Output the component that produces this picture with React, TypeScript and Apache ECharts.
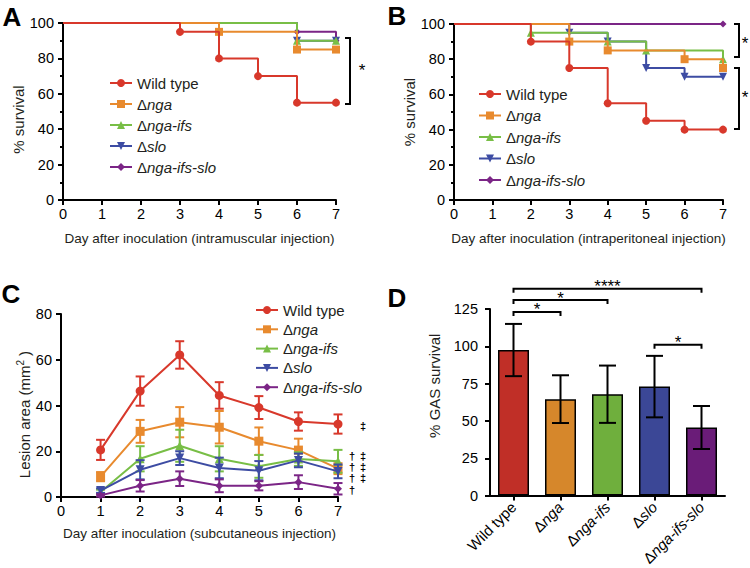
import React, { useEffect, useRef } from 'react';
import * as echarts from 'echarts';

const FONT = '"Liberation Sans", Arial, Helvetica, sans-serif';

const groups = ['Wild type', 'Δnga', 'Δnga-ifs', 'Δslo', 'Δnga-ifs-slo'];
const lineColors = ['#d8382b', '#e88a2e', '#78be46', '#3d4ca3', '#7b2586'];
const barColors = ['#c02f27', '#d6872b', '#6faf3d', '#3b4796', '#6a1c78'];
const symbols = ['circle', 'rect', 'triangle', 'triangle', 'diamond'];
const symbolRotates = [0, 0, 0, 180, 0];
const symbolSizes = [8, 8, 8, 8, 7];

// Panel A: % survival, intramuscular injection ([day, %])
const imWildType = [[0, 100], [3, 95], [4, 80], [5, 70], [6, 55], [7, 55]];
const imNga = [[0, 100], [4, 95], [6, 85], [7, 85]];
const imNgaIfs = [[0, 100], [6, 90], [7, 90]];
const imSlo = [[0, 100], [6, 90], [7, 90]];
const imNgaIfsSlo = [[0, 100], [6, 95], [7, 90]];

// Panel B: % survival, intraperitoneal injection ([day, %])
const ipWildType = [[0, 100], [2, 90], [3, 75], [4, 55], [5, 45], [6, 40], [7, 40]];
const ipNga = [[0, 100], [3, 90], [4, 85], [6, 80], [7, 75]];
const ipNgaIfs = [[0, 100], [2, 95], [4, 90], [5, 85], [7, 80]];
const ipSlo = [[0, 100], [3, 95], [4, 90], [5, 75], [6, 70], [7, 70]];
const ipNgaIfsSlo = [[0, 100], [7, 100]];

// Panel C: lesion area (mm2), subcutaneous injection
const lesionDays = [1, 2, 3, 4, 5, 6, 7];
const lesionWildType = [20.6, 46.3, 62.1, 44.4, 39.1, 33.0, 31.9];
const lesionWildTypeErr = [4.4, 6.4, 6.0, 5.8, 5.0, 4.0, 4.2];
const lesionNga = [8.9, 28.7, 32.7, 30.5, 24.4, 20.5, 12.4];
const lesionNgaErr = [2.0, 5.0, 6.6, 7.1, 6.0, 5.0, 2.4];
const lesionNgaIfs = [2.2, 16.7, 22.4, 16.7, 13.4, 16.6, 15.6];
const lesionNgaIfsErr = [1.0, 5.5, 7.0, 5.5, 5.0, 3.0, 5.0];
const lesionSlo = [2.8, 11.9, 17.0, 12.7, 11.5, 16.0, 11.2];
const lesionSloErr = [1.0, 4.2, 3.0, 4.5, 4.2, 3.0, 3.0];
const lesionNgaIfsSlo = [0.7, 4.9, 8.0, 4.9, 4.9, 6.5, 3.6];
const lesionNgaIfsSloErr = [0.5, 2.5, 3.2, 2.8, 2.0, 3.0, 2.5];

// Panel D: % GAS survival
const gasSurvival = [97.5, 64.6, 67.9, 73.0, 45.6];
const gasSurvivalErr = [17.5, 16.0, 19.2, 20.6, 14.4];
// significance brackets: [from index, to index, y level]
const brackets = [[0, 1, 123], [0, 2, 131], [0, 4, 138.5], [3, 4, 101]];
const bracketLabels = ['*', '*', '****', '*'];

const survivalIM = [imWildType, imNga, imNgaIfs, imSlo, imNgaIfsSlo];
const survivalIP = [ipWildType, ipNga, ipNgaIfs, ipSlo, ipNgaIfsSlo];
const lesionMeans = [lesionWildType, lesionNga, lesionNgaIfs, lesionSlo, lesionNgaIfsSlo];
const lesionErrs = [lesionWildTypeErr, lesionNgaErr, lesionNgaIfsErr, lesionSloErr, lesionNgaIfsSloErr];

const TXT = '#231f20';

function fmt(label: string) {
  if (label.startsWith('Δ')) return `{n|Δ}{i|${label.slice(1)}}`;
  return `{n|${label}}`;
}

function richStyles(size: number) {
  return {
    n: { fontSize: size, fontFamily: FONT, color: TXT },
    i: { fontSize: size, fontFamily: FONT, color: TXT, fontStyle: 'italic' },
  };
}

const axisBase = {
  axisLine: { show: true, lineStyle: { color: '#000', width: 2 } },
  axisTick: { show: true, length: 5, lineStyle: { color: '#000', width: 2 } },
  splitLine: { show: false },
  nameTextStyle: { color: TXT, fontFamily: FONT, fontSize: 15 },
};

function labelStyle(margin: number) {
  return { color: '#000', fontSize: 14.5, fontFamily: FONT, margin };
}

export default function App() {
  const ref = useRef<HTMLDivElement>(null);
  useEffect(() => {
    if (!ref.current) return;
    const chart = echarts.init(ref.current, undefined, { renderer: 'svg' });

    const series: any[] = [];
    const survPanels = [
      { data: survivalIM, idx: 0, p: 'A' },
      { data: survivalIP, idx: 1, p: 'B' },
    ];
    survPanels.forEach(({ data, idx, p }) => {
      data.forEach((pts, g) => {
        series.push({
          name: `${p}:${groups[g]}`,
          type: 'line',
          xAxisIndex: idx,
          yAxisIndex: idx,
          step: 'end',
          symbol: symbols[g],
          symbolRotate: symbolRotates[g],
          symbolSize: symbolSizes[g],
          showAllSymbol: true,
          lineStyle: { color: lineColors[g], width: 2 },
          itemStyle: { color: lineColors[g] },
          data: pts.map((pt, k) => (k === 0 ? { value: pt, symbol: 'none' } : { value: pt })),
          z: 10 - g,
        });
      });
    });

    lesionMeans.forEach((means, g) => {
      const color = lineColors[g];
      series.push({
        name: `err-C:${groups[g]}`,
        type: 'custom',
        xAxisIndex: 2,
        yAxisIndex: 2,
        clip: false,
        encode: { x: 0, y: 1 },
        data: lesionDays.map((d, i) => [d, means[i], lesionErrs[g][i]]),
        renderItem: (params: any, api: any) => {
          const x = api.value(0);
          const m = api.value(1);
          const e = api.value(2);
          const top = api.coord([x, m + e]);
          const bot = api.coord([x, Math.max(0, m - e)]);
          const hw = 4.5;
          const st = { stroke: color, lineWidth: 2 };
          return {
            type: 'group',
            children: [
              { type: 'line', shape: { x1: top[0], y1: top[1], x2: bot[0], y2: bot[1] }, style: st },
              { type: 'line', shape: { x1: top[0] - hw, y1: top[1], x2: top[0] + hw, y2: top[1] }, style: st },
              { type: 'line', shape: { x1: bot[0] - hw, y1: bot[1], x2: bot[0] + hw, y2: bot[1] }, style: st },
            ],
          };
        },
        z: 2 + g,
      });
      series.push({
        name: `C:${groups[g]}`,
        type: 'line',
        xAxisIndex: 2,
        yAxisIndex: 2,
        symbol: symbols[g],
        symbolRotate: symbolRotates[g],
        symbolSize: symbolSizes[g] + 1,
        lineStyle: { color, width: 2 },
        itemStyle: { color },
        data: lesionDays.map((d, i) => [d, means[i]]),
        z: 2 + g,
      });
    });

    series.push({
      name: 'D:bars',
      type: 'bar',
      xAxisIndex: 3,
      yAxisIndex: 3,
      barWidth: 31,
      data: gasSurvival.map((v, i) => ({
        value: v,
        itemStyle: { color: barColors[i], borderColor: '#000', borderWidth: 1.5 },
      })),
      z: 2,
    });
    series.push({
      name: 'D:err',
      type: 'custom',
      xAxisIndex: 3,
      yAxisIndex: 3,
      clip: false,
      encode: { x: 0, y: 1 },
      data: gasSurvival.map((v, i) => [i, v, gasSurvivalErr[i]]),
      renderItem: (params: any, api: any) => {
        const x = api.value(0);
        const m = api.value(1);
        const e = api.value(2);
        const top = api.coord([x, m + e]);
        const bot = api.coord([x, m - e]);
        const hw = 8.5;
        const st = { stroke: '#000', lineWidth: 2 };
        return {
          type: 'group',
          children: [
            { type: 'line', shape: { x1: top[0], y1: top[1], x2: bot[0], y2: bot[1] }, style: st },
            { type: 'line', shape: { x1: top[0] - hw, y1: top[1], x2: top[0] + hw, y2: top[1] }, style: st },
            { type: 'line', shape: { x1: bot[0] - hw, y1: bot[1], x2: bot[0] + hw, y2: bot[1] }, style: st },
          ],
        };
      },
      z: 5,
    });
    series.push({
      name: 'D:brackets',
      type: 'custom',
      xAxisIndex: 3,
      yAxisIndex: 3,
      clip: false,
      encode: { x: 0, y: 2 },
      data: brackets,
      renderItem: (params: any, api: any) => {
        const a = api.coord([api.value(0), api.value(2)]);
        const b = api.coord([api.value(1), api.value(2)]);
        const y = a[1];
        const st = { stroke: '#000', lineWidth: 2, fill: 'none' };
        return {
          type: 'group',
          children: [
            {
              type: 'polyline',
              shape: { points: [[a[0], y + 4], [a[0], y], [b[0], y], [b[0], y + 4]] },
              style: st,
            },
            {
              type: 'text',
              x: (a[0] + b[0]) / 2,
              y: y - 2,
              style: {
                text: bracketLabels[params.dataIndex],
                fontSize: 17,
                fontFamily: FONT,
                fill: '#000',
                align: 'center',
                verticalAlign: 'middle',
              },
            },
          ],
        };
      },
      z: 5,
    });

    const legendBase = (names: string[], left: number, top: number, gap: number) => ({
      data: names,
      left,
      top,
      orient: 'vertical',
      itemWidth: 22,
      itemHeight: 10,
      itemGap: gap,
      selectedMode: false,
      formatter: (name: string) => fmt(name.split(':')[1]),
      textStyle: { fontSize: 15, fontFamily: FONT, color: TXT, lineHeight: 16, rich: richStyles(15) },
    });

    const bracketLine = (pts: number[][]) => ({
      type: 'polyline',
      shape: { points: pts },
      style: { stroke: '#000', lineWidth: 2, fill: 'none' },
    });
    const txt = (text: string, x: number, y: number, size: number, bold = false) => ({
      type: 'text',
      x,
      y,
      style: {
        text,
        fontSize: size,
        fontFamily: FONT,
        fontWeight: bold ? 'bold' : 'normal',
        fill: '#000',
        align: 'center',
        verticalAlign: 'middle',
      },
    });

    const option: any = {
      animation: false,
      backgroundColor: '#fff',
      grid: [
        { left: 63, top: 23, width: 273, height: 177 },
        { left: 454, top: 24, width: 269, height: 176 },
        { left: 61, top: 314, width: 277, height: 183 },
        { left: 490, top: 309, width: 235, height: 188 },
      ],
      xAxis: [
        {
          ...axisBase,
          gridIndex: 0,
          type: 'value',
          min: 0,
          max: 7,
          interval: 1,
          axisLabel: labelStyle(6),
          name: 'Day after inoculation (intramuscular injection)',
          nameLocation: 'middle',
          nameGap: 31,
          nameTextStyle: { color: TXT, fontFamily: FONT, fontSize: 13.5 },
        },
        {
          ...axisBase,
          gridIndex: 1,
          type: 'value',
          min: 0,
          max: 7,
          interval: 1,
          axisLabel: labelStyle(6),
          name: 'Day after inoculation (intraperitoneal injection)',
          nameLocation: 'middle',
          nameGap: 31,
          nameTextStyle: { color: TXT, fontFamily: FONT, fontSize: 13.5 },
        },
        {
          ...axisBase,
          gridIndex: 2,
          type: 'value',
          min: 0,
          max: 7,
          interval: 1,
          axisLabel: labelStyle(6),
          name: 'Day after inoculation (subcutaneous injection)',
          nameLocation: 'middle',
          nameGap: 29,
          nameTextStyle: { color: TXT, fontFamily: FONT, fontSize: 13.5 },
        },
        {
          ...axisBase,
          gridIndex: 3,
          type: 'category',
          data: groups,
          axisTick: { show: true, alignWithLabel: true, length: 5, lineStyle: { color: '#000', width: 2 } },
          axisLabel: {
            ...labelStyle(9),
            rotate: 45,
            interval: 0,
            formatter: (v: string) => fmt(v),
            rich: {
              n: { fontSize: 15, fontFamily: FONT, color: '#000' },
              i: { fontSize: 15, fontFamily: FONT, color: '#000', fontStyle: 'italic' },
            },
          },
        },
      ],
      yAxis: [
        {
          ...axisBase,
          gridIndex: 0,
          type: 'value',
          min: 0,
          max: 100,
          interval: 20,
          minorTick: { show: true, splitNumber: 2, length: 3, lineStyle: { color: '#000', width: 2 } },
          axisLabel: labelStyle(9),
          name: '% survival',
          nameLocation: 'middle',
          nameGap: 36,
          nameTextStyle: { color: TXT, fontFamily: FONT, fontSize: 15, padding: [0, 16, 0, 0] },
        },
        {
          ...axisBase,
          gridIndex: 1,
          type: 'value',
          min: 0,
          max: 100,
          interval: 20,
          minorTick: { show: true, splitNumber: 2, length: 3, lineStyle: { color: '#000', width: 2 } },
          axisLabel: labelStyle(9),
          name: '% survival',
          nameLocation: 'middle',
          nameGap: 36,
          nameTextStyle: { color: TXT, fontFamily: FONT, fontSize: 15 },
        },
        {
          ...axisBase,
          gridIndex: 2,
          type: 'value',
          min: 0,
          max: 80,
          interval: 20,
          axisLabel: labelStyle(9),
          name: 'Lesion area (mm{sup|2} )',
          nameLocation: 'middle',
          nameGap: 28,
          nameTextStyle: {
            color: TXT,
            fontFamily: FONT,
            fontSize: 15,
            padding: [0, 18, 0, 0],
            rich: { sup: { fontSize: 10, fontFamily: FONT, color: TXT, verticalAlign: 'top', padding: [0, 0, 8, 0] } },
          },
        },
        {
          ...axisBase,
          gridIndex: 3,
          type: 'value',
          min: 0,
          max: 125,
          interval: 25,
          axisLabel: labelStyle(12),
          name: '% GAS survival',
          nameLocation: 'middle',
          nameGap: 48,
          nameTextStyle: { color: TXT, fontFamily: FONT, fontSize: 15, padding: [0, 0, 0, 33] },
        },
      ],
      legend: [
        legendBase(groups.map((g) => `A:${g}`), 104, 70, 5),
        legendBase(groups.map((g) => `B:${g}`), 473, 81, 5.5),
        legendBase(groups.map((g) => `C:${g}`), 250, 297, 3.3),
      ],
      graphic: [
        txt('A', 12, 17, 26, true),
        txt('B', 397, 16, 26, true),
        txt('C', 11, 294, 26, true),
        txt('D', 397, 298, 26, true),
        bracketLine([[345, 38], [350, 38], [350, 104], [345, 104]]),
        txt('*', 362, 70, 17),
        bracketLine([[734, 24], [739, 24], [739, 57], [734, 57]]),
        txt('*', 745, 43, 17),
        bracketLine([[734, 68], [739, 68], [739, 129], [734, 129]]),
        txt('*', 745, 97, 17),
        txt('‡', 363, 426, 11, true),
        txt('†', 352, 456, 11, true),
        txt('‡', 363, 456, 11, true),
        txt('†', 352, 467, 11, true),
        txt('‡', 363, 467, 11, true),
        txt('†', 352, 478, 11, true),
        txt('‡', 363, 478, 11, true),
        txt('†', 352, 490, 11, true),
      ],
      series,
    };
    chart.setOption(option);
    return () => chart.dispose();
  }, []);
  return (
    <div
      ref={ref}
      style={{ position: 'fixed', left: 0, top: 0, width: 750, height: 568, background: '#fff' }}
    />
  );
}
